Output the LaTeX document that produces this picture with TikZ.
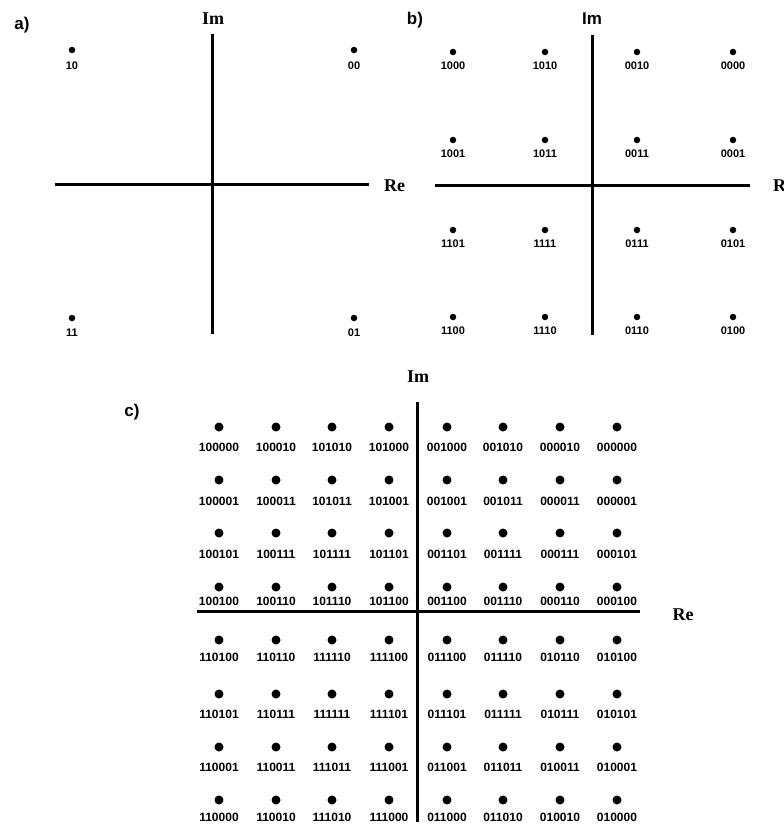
\documentclass[tikz,border=0pt]{standalone}
\usepackage{fontspec}
\setmainfont{Liberation Serif}
\setsansfont{Liberation Sans}
\begin{document}
\begin{tikzpicture}[x=1pt,y=-1pt,
 axis/.style={line width=3pt},
 dotsmall/.style={circle,fill=black,inner sep=0pt,minimum size=6.5pt},
 dotbig/.style={circle,fill=black,inner sep=0pt,minimum size=9pt},
 lbla/.style={font=\sffamily\bfseries\fontsize{11}{11}\selectfont,inner sep=0pt},
 lblc/.style={font=\sffamily\bfseries\fontsize{12}{12}\selectfont,inner sep=0pt},
 axlbl/.style={font=\rmfamily\bfseries\fontsize{18}{18}\selectfont,inner sep=0pt},
 axlblsf/.style={font=\sffamily\bfseries\fontsize{17}{17}\selectfont,inner sep=0pt},
 panel/.style={font=\sffamily\bfseries\fontsize{17}{17}\selectfont,inner sep=0pt}]
\useasboundingbox (0,0) rectangle (784,831);
\fill[white] (0,0) rectangle (784,831);

% ---------- panel a ----------
\node[panel] (pa) at (22,25) {a)};
\node[axlbl] (ima) at (213,19) {Im};
\coordinate (at) at (212,34);
\coordinate (ab) at (212,334);
\coordinate (al) at (55,184);
\coordinate (ar) at (369,184);
\draw[axis] (at) -- (ab);
\draw[axis] (al) -- (ar);
\node[axlbl,anchor=west] (rea) at (384,186) {Re};
\node[dotsmall] (a1) at (72,50) {};
\node[lbla] (al1) at (72,66) {10};
\node[dotsmall] (a2) at (354,50) {};
\node[lbla] (al2) at (354,66) {00};
\node[dotsmall] (a3) at (72,318) {};
\node[lbla] (al3) at (72,333) {11};
\node[dotsmall] (a4) at (354,318) {};
\node[lbla] (al4) at (354,333) {01};

% ---------- panel b ----------
\node[panel] (pb) at (415,20) {b)};
\node[axlblsf] (imb) at (592,19) {Im};
\coordinate (bt) at (592,35);
\coordinate (bb) at (592,335);
\coordinate (bl) at (435,185);
\coordinate (br) at (750,185);
\draw[axis] (bt) -- (bb);
\draw[axis] (bl) -- (br);
\node[axlbl,anchor=west] (reb) at (773,186) {Re};
\foreach \lab [count=\k from 0] in {1000,1010,0010,0000,1001,1011,0011,0001,1101,1111,0111,0101,1100,1110,0110,0100}{
  \pgfmathtruncatemacro\cc{mod(\k,4)}
  \pgfmathtruncatemacro\rr{div(\k,4)}
  \pgfmathsetmacro\xx{{453,545,637,733}[\cc]}
  \pgfmathsetmacro\yy{{52,140,230,317}[\rr]}
  \node[dotsmall] (b\k) at (\xx,\yy) {};
  \node[lbla] (bl\k) at (\xx,\yy+14) {\lab};
}

% ---------- panel c ----------
\node[panel] (pc) at (132,412) {c)};
\node[axlbl] (imc) at (418,377) {Im};
\coordinate (ct) at (417,402);
\coordinate (cb) at (417,822);
\coordinate (cl) at (197,611);
\coordinate (cr) at (640,611);
\draw[axis] (ct) -- (cb);
\draw[axis] (cl) -- (cr);
\node[axlbl] (rec) at (683,615) {Re};
\foreach \lab [count=\k from 0] in {
 100000,100010,101010,101000,001000,001010,000010,000000,
 100001,100011,101011,101001,001001,001011,000011,000001,
 100101,100111,101111,101101,001101,001111,000111,000101,
 100100,100110,101110,101100,001100,001110,000110,000100,
 110100,110110,111110,111100,011100,011110,010110,010100,
 110101,110111,111111,111101,011101,011111,010111,010101,
 110001,110011,111011,111001,011001,011011,010011,010001,
 110000,110010,111010,111000,011000,011010,010010,010000}{
  \pgfmathtruncatemacro\cc{mod(\k,8)}
  \pgfmathtruncatemacro\rr{div(\k,8)}
  \pgfmathsetmacro\xx{{219,276,332,389,447,503,560,617}[\cc]}
  \pgfmathsetmacro\yy{{427,480,533,587,640,694,747,800}[\rr]}
  \pgfmathsetmacro\ly{{447,501,554,601,657,714,767,817}[\rr]}
  \node[dotbig] (c\k) at (\xx,\yy) {};
  \node[lblc] (cl\k) at (\xx,\ly) {\lab};
}
\end{tikzpicture}
\end{document}
